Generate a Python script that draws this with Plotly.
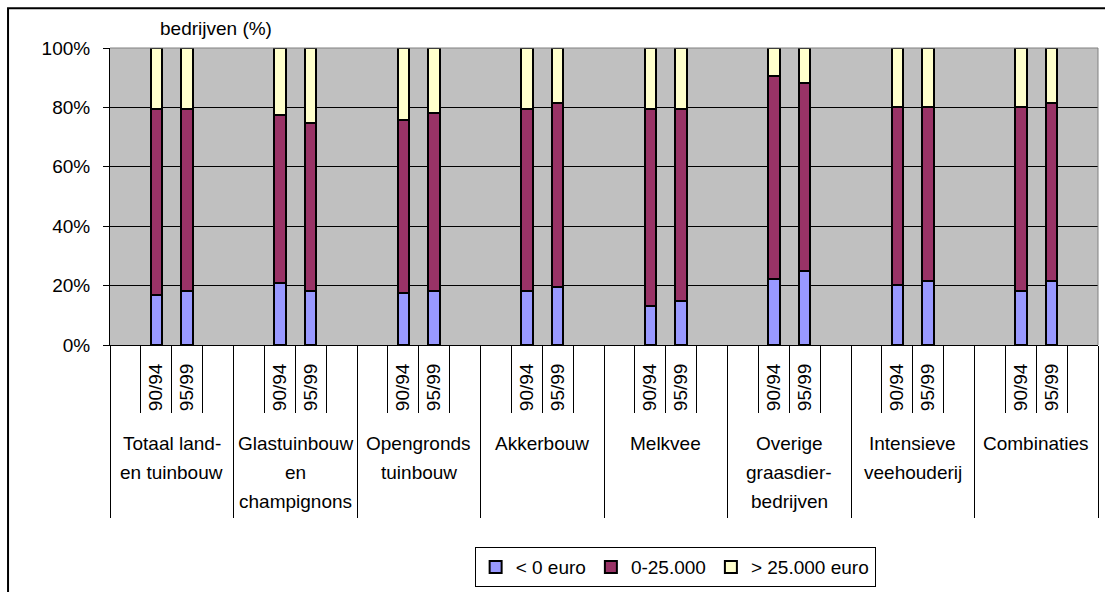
import plotly.graph_objects as go

# Sector groups (label lines separated by "\n") and the two periods per group
groups = [
    "Totaal land-\nen tuinbouw",
    "Glastuinbouw\nen\nchampignons",
    "Opengronds\ntuinbouw",
    "Akkerbouw",
    "Melkvee",
    "Overige\ngraasdier-\nbedrijven",
    "Intensieve\nveehouderij",
    "Combinaties",
]
periods = ["90/94", "95/99"]

# Share of farms (%) per group and period, in order group1/90-94, group1/95-99, ...
neg_share = [16.8, 18.1, 20.8, 18.1, 17.4, 18.1, 18.1, 19.5,
             13.0, 14.9, 22.3, 24.8, 20.1, 21.5, 18.2, 21.5]
low_share = [62.6, 61.3, 56.6, 56.6, 58.2, 60.1, 61.3, 62.0,
             66.5, 64.6, 68.4, 63.3, 60.1, 58.7, 62.0, 60.1]
high_share = [20.6, 20.6, 22.6, 25.3, 24.4, 21.8, 20.6, 18.5,
              20.5, 20.5, 9.3, 11.9, 19.8, 19.8, 19.8, 18.4]

series_names = ["< 0 euro", "0-25.000", "> 25.000 euro"]
series_colors = ["#9999FF", "#993366", "#FFFFCC"]

y_ticks = [0, 20, 40, 60, 80, 100]

# Each group occupies 4 slots: empty, period 1, period 2, empty
SLOTS = 4
n_groups = len(groups)
bar_x = [SLOTS * g + 1.5 + p for g in range(n_groups) for p in range(len(periods))]
bar_labels = [periods[p] for g in range(n_groups) for p in range(len(periods))]
x_max = SLOTS * n_groups

FONT = "Liberation Sans, Arial, sans-serif"
FS = 19

fig = go.Figure()
for name, color, vals in zip(series_names, series_colors, [neg_share, low_share, high_share]):
    fig.add_trace(go.Bar(
        x=bar_x, y=vals, name=name, width=0.37,
        marker=dict(color=color, line=dict(color="black", width=2)),
    ))

# Empty helper traces so the overlaid divider axes get drawn
for ax in ["x2", "x3"]:
    fig.add_trace(go.Scatter(
        x=[0, x_max], y=[None, None], xaxis=ax, yaxis="y", mode="lines",
        showlegend=False, hoverinfo="skip",
    ))

# Category labels under each group, one annotation per text line
annotations = []
for g, label in enumerate(groups):
    for i, line in enumerate(label.split("\n")):
        annotations.append(dict(
            x=SLOTS * g + SLOTS / 2, xref="x", y=0, yref="paper",
            yanchor="middle", yshift=-98 - 29 * i,
            text=line, showarrow=False, font=dict(size=FS, color="black"),
        ))
annotations.append(dict(
    x=0.1073, xref="paper", y=1.064, yref="paper",
    text="bedrijven (%)", showarrow=False, xanchor="center", yanchor="middle",
    font=dict(size=FS, color="black"),
))

shapes = [
    # plot area border (top and right)
    dict(type="line", xref="paper", yref="paper", x0=0, x1=1, y0=1, y1=1,
         line=dict(color="#808080", width=1), layer="above"),
    dict(type="line", xref="paper", yref="paper", x0=1, x1=1, y0=0, y1=1,
         line=dict(color="#808080", width=1), layer="above"),
    # chart frame
    dict(type="rect", xref="paper", yref="paper", x0=-0.1032, x1=1.3, y0=-1.5, y1=1.134,
         line=dict(color="black", width=2), fillcolor="rgba(0,0,0,0)"),
]

divider_common = dict(
    overlaying="x", anchor="y", side="bottom", range=[0, x_max],
    tickcolor="black", tickwidth=1, showticklabels=False, showgrid=False,
    zeroline=False, showline=False, fixedrange=True, ticks="outside",
)

fig.update_layout(
    width=1105, height=592,
    margin=dict(l=110, r=7, t=48, b=246),
    paper_bgcolor="white", plot_bgcolor="#C0C0C0",
    barmode="stack", bargap=0,
    font=dict(family=FONT, size=FS, color="black"),
    showlegend=True,
    legend=dict(
        orientation="h", x=0.572, y=-0.742, xanchor="center", yanchor="middle",
        bordercolor="black", borderwidth=1, bgcolor="white",
        font=dict(size=FS), itemwidth=30, traceorder="normal",
    ),
    xaxis=dict(
        range=[0, x_max], tickvals=bar_x, ticktext=bar_labels, tickangle=-90,
        ticks="", showgrid=False, zeroline=False, showline=True, linecolor="black",
        tickfont=dict(size=FS), ticklabelstandoff=10, fixedrange=True,
    ),
    # short dividers between slots
    xaxis2=dict(tickvals=list(range(0, x_max + 1)), ticklen=67, **divider_common),
    # long dividers between groups
    xaxis3=dict(tickvals=list(range(0, x_max + 1, SLOTS)), ticklen=172, **divider_common),
    yaxis=dict(
        range=[0, 100], tickvals=y_ticks, ticktext=[f"{v}%" for v in y_ticks],
        ticks="outside", ticklen=6, tickcolor="black", showline=True, linecolor="black",
        gridcolor="black", gridwidth=1, zeroline=False, ticklabelstandoff=9,
        tickfont=dict(size=FS), fixedrange=True,
    ),
    annotations=annotations,
    shapes=shapes,
)

fig.write_html("out.html")
